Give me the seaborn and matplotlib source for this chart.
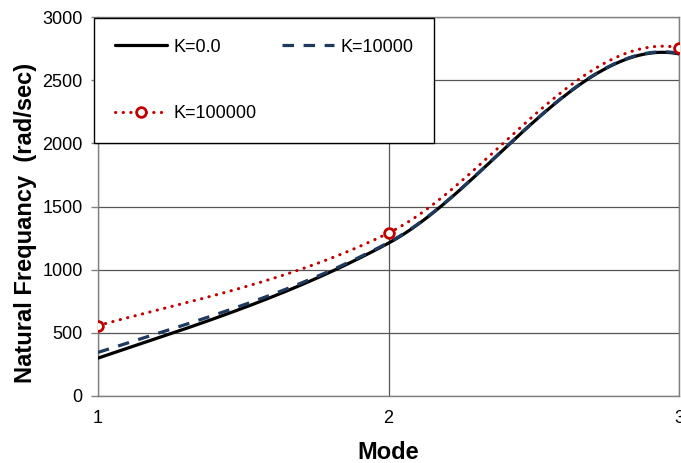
import matplotlib
matplotlib.use("Agg")
import matplotlib.pyplot as plt
from matplotlib.lines import Line2D
import numpy as np
import seaborn as sns

# Data
modes = [1, 2, 3]
k0 = [300, 1210, 2708]
k10000 = [345, 1215, 2712]
k100000 = [558, 1290, 2757]
labels = ["K=0.0", "K=10000", "K=100000"]
y_ticks = [0, 500, 1000, 1500, 2000, 2500, 3000]

sns.set_style("white")
plt.rcParams['font.family'] = ['Liberation Sans', 'DejaVu Sans']
plt.rcParams['text.color'] = 'black'
plt.rcParams['axes.labelcolor'] = 'black'


def smooth(xv, yv, n=80):
    # Excel-like smoothed line through the points (cubic Hermite)
    xv = np.asarray(xv, float)
    yv = np.asarray(yv, float)
    c = np.diff(yv) / np.diff(xv)
    m = [0.85 * c[0], 1.03 * (c[0] + c[1]) / 2, -0.3 * c[1]]
    xs, ys = [], []
    for i in range(len(xv) - 1):
        t = np.linspace(0, 1, n)
        h = xv[i + 1] - xv[i]
        h00 = 2 * t**3 - 3 * t**2 + 1
        h10 = t**3 - 2 * t**2 + t
        h01 = -2 * t**3 + 3 * t**2
        h11 = t**3 - t**2
        xs.extend(xv[i] + t * h)
        ys.extend(h00 * yv[i] + h10 * h * m[i] + h01 * yv[i + 1] + h11 * h * m[i + 1])
    return np.array(xs), np.array(ys)


fig = plt.figure(figsize=(6.81, 4.63), dpi=100)
ax = fig.add_axes([98 / 681, 1 - 396 / 463, 581 / 681, 379 / 463])

black = "#000000"
navy = "#1F3A5F"
red = "#C00000"

x0, y0 = smooth(modes, k0)
sns.lineplot(x=x0, y=y0, ax=ax, color=black, linewidth=2.3, sort=False, zorder=3)

x1, y1 = smooth(modes, k10000)
sns.lineplot(x=x1, y=y1, ax=ax, color=navy, linewidth=2.3, sort=False,
             linestyle=(0, (3.6, 3.0)), zorder=4)

x2, y2 = smooth(modes, k100000)
sns.lineplot(x=x2, y=y2, ax=ax, color=red, linewidth=2.2, sort=False,
             linestyle=(0, (0.1, 2.4)), dash_capstyle="round", zorder=5)
ax.plot(modes, k100000, linestyle="none", marker="o", markersize=7,
        markerfacecolor="white", markeredgecolor=red, markeredgewidth=2, zorder=6)

ax.set_xlim(1, 3)
ax.set_ylim(0, 3000)
ax.set_xticks(modes)
ax.set_yticks(y_ticks)
ax.tick_params(axis="x", direction="inout", length=10, width=1, color="#808080",
               labelcolor="black", labelsize=13, pad=5)
ax.tick_params(axis="y", direction="out", length=5, width=1, color="#808080",
               labelcolor="black", labelsize=13, pad=6, left=True)

ax.grid(True, color="#555555", linewidth=0.9)
for s in ax.spines.values():
    s.set_color("#808080")
    s.set_linewidth(1)

ax.set_xlabel("Mode", fontsize=17, fontweight="bold", labelpad=10)
ax.set_ylabel("Natural Frequancy  (rad/sec)", fontsize=17, fontweight="bold")
ax.yaxis.set_label_coords(-0.105, 0.456)

h_k0 = Line2D([], [], color=black, linewidth=2.3)
h_k10000 = Line2D([], [], color=navy, linewidth=2.3, linestyle=(0, (3.6, 3.0)))
h_k100000 = Line2D([], [], color=red, linewidth=2.2, linestyle=(0, (0.1, 2.4)),
                   dash_capstyle="round", marker="o", markersize=7,
                   markerfacecolor="white", markeredgecolor=red, markeredgewidth=2)
# column-wise fill: col 1 = K=0.0, K=100000 ; col 2 = K=10000
leg = ax.legend([h_k0, h_k100000, h_k10000], [labels[0], labels[2], labels[1]],
                ncol=2, loc="upper left",
                bbox_to_anchor=(94 / 681, 1 - 18 / 463), bbox_transform=fig.transFigure,
                fontsize=13, frameon=True, fancybox=False, framealpha=1,
                edgecolor="black", handlelength=2.9, handletextpad=0.35,
                columnspacing=1.4, labelspacing=2.75, borderpad=1.15,
                borderaxespad=0, numpoints=1)
leg.get_frame().set_linewidth(1)
leg.set_zorder(10)

fig.savefig("out.png", dpi=100)
